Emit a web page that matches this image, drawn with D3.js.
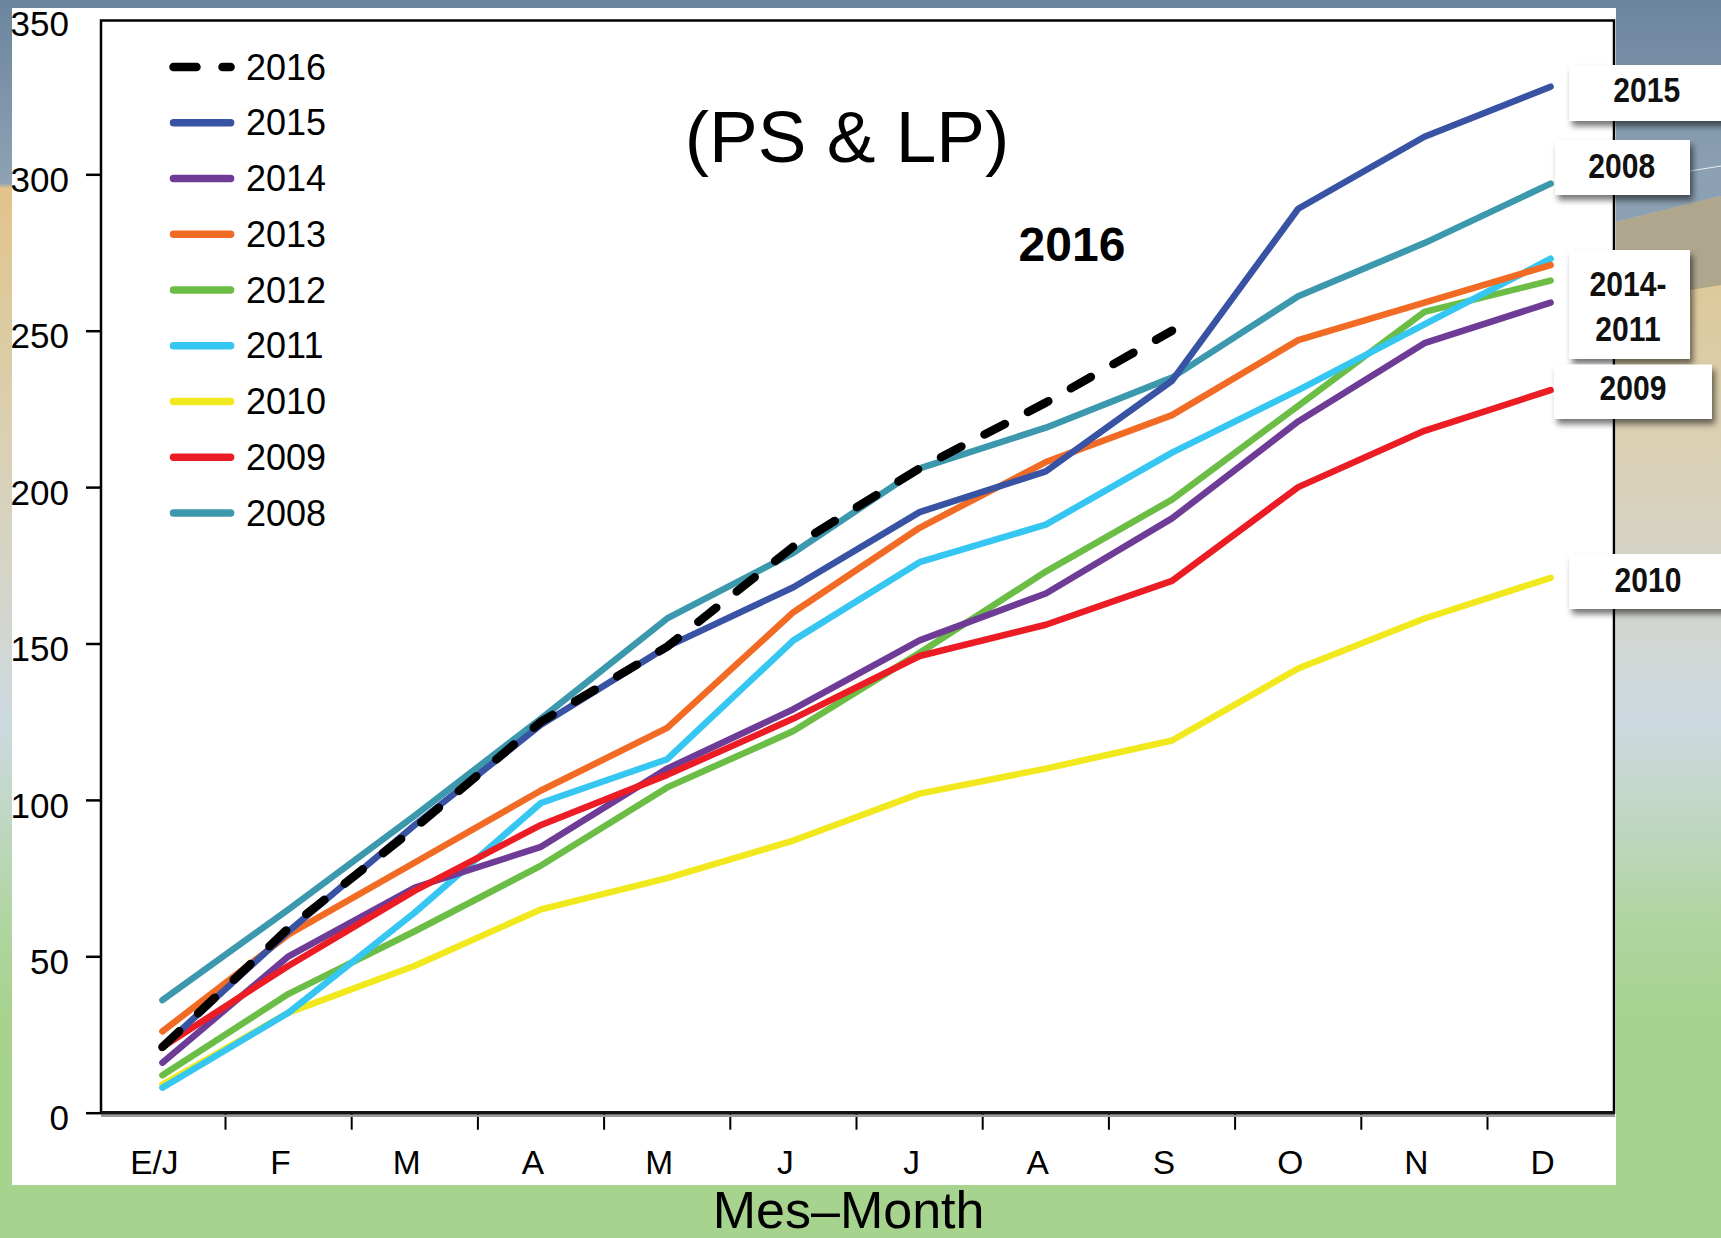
<!DOCTYPE html>
<html>
<head>
<meta charset="utf-8">
<script src="https://cdn.jsdelivr.net/npm/d3@7"></script>
<style>
  html, body { margin: 0; padding: 0; background: #a6d38e; }
  svg { display: block; }
  text { font-family: "Liberation Sans", Arial, Helvetica, sans-serif; }
</style>
</head>
<body>
<svg id="chart" width="1721" height="1238"></svg>
<script>
// ---------- DATA ----------
const months = ["E/J", "F", "M", "A", "M ", "J", "J ", "A ", "S", "O", "N", "D"];
const monthLabels = ["E/J", "F", "M", "A", "M", "J", "J", "A", "S", "O", "N", "D"];
const years = ["2016", "2015", "2014", "2013", "2012", "2011", "2010", "2009", "2008"];
const v2016 = [21, 59, 91, 125, 149, 181, 206, 227, 250];
const v2015 = [21, 58, 92, 124, 149, 168, 192, 205, 234, 289, 312, 328];
const v2014 = [16, 50, 72, 85, 110, 129, 151, 166, 190, 221, 246, 259];
const v2013 = [26, 57, 80, 103, 123, 160, 187, 208, 223, 247, 259, 271];
const v2012 = [12, 38, 58, 79, 104, 122, 147, 173, 196, 226, 256, 266];
const v2011 = [8, 32, 64, 99, 113, 151, 176, 188, 211, 231, 252, 273];
const v2010 = [9, 32, 47, 65, 75, 87, 102, 110, 119, 142, 158, 171];
const v2009 = [21, 47, 71, 92, 108, 126, 146, 156, 170, 200, 218, 231];
const v2008 = [36, 65, 95, 126, 158, 179, 206, 219, 235, 261, 278, 297];
const yTicks = [0, 50, 100, 150, 200, 250, 300, 350];
const titleText = "(PS & LP)";
const annotText = "2016";
const xTitle = "Mes\u2013Month";
const sideLabels = [["2015"], ["2008"], ["2014-", "2011"], ["2009"], ["2010"]];

// ---------- STYLE ----------
const seriesValues = {
  "2016": v2016, "2015": v2015, "2014": v2014, "2013": v2013, "2012": v2012,
  "2011": v2011, "2010": v2010, "2009": v2009, "2008": v2008
};
const colors = {
  "2016": "#000000", "2015": "#3953a4", "2014": "#6e3b97", "2013": "#f26b24",
  "2012": "#6bbd45", "2011": "#35c6f1", "2010": "#f1e91d", "2009": "#ec1c24",
  "2008": "#3c98ad"
};
const drawOrder = ["2012", "2010", "2011", "2014", "2013", "2009", "2008", "2015", "2016"];

const svg = d3.select("#chart");
const defs = svg.append("defs");

// background gradient
const bg = defs.append("linearGradient").attr("id", "bg")
  .attr("x1", 0).attr("y1", 0).attr("x2", 0).attr("y2", 1);
[[0, "#6b859e"], [0.148, "#8ea2b4"], [0.152, "#e3c28b"], [0.26, "#dccba0"],
 [0.38, "#d9d1b8"], [0.5, "#d3d6cf"], [0.58, "#cdd9e0"], [0.66, "#c0d7c4"],
 [0.74, "#b0d5a2"], [0.82, "#a7d38f"], [1, "#a6d38e"]].forEach(s =>
  bg.append("stop").attr("offset", s[0]).attr("stop-color", s[1]));

const shadow = defs.append("filter").attr("id", "shadow")
  .attr("x", "-20%").attr("y", "-30%").attr("width", "150%").attr("height", "180%");
shadow.append("feDropShadow").attr("dx", 3).attr("dy", 5).attr("stdDeviation", 3)
  .attr("flood-color", "#000").attr("flood-opacity", 0.55);

svg.append("rect").attr("width", 1721).attr("height", 1238).attr("fill", "url(#bg)");
// right-side landscape bands
svg.append("polygon").attr("points", "1616,180 1721,180 1721,196 1616,222").attr("fill", "#8ba0b3");
svg.append("polygon").attr("points", "1616,222 1721,196 1721,285 1616,302").attr("fill", "#aea78e");
svg.append("line").attr("x1", 1690).attr("y1", 171).attr("x2", 1721).attr("y2", 166)
  .attr("stroke", "#e8eef2").attr("stroke-width", 1.2);

// white panel
svg.append("rect").attr("x", 12).attr("y", 8).attr("width", 1604).attr("height", 1177).attr("fill", "#ffffff");

// ---------- SCALES ----------
const plotL = 101, plotR = 1614, plotT = 20.5, plotB = 1112.7;
const x = d3.scalePoint().domain(months).range([162.4, 1550.6]);
const y = d3.scaleLinear().domain([0, 350]).range([plotB, 17.9]);

// ---------- AXES ----------
const yAxis = d3.axisLeft(y).tickValues(yTicks).tickSize(15).tickPadding(17);
const yg = svg.append("g").attr("transform", `translate(${plotL},0)`).call(yAxis);
yg.select(".domain").remove();
yg.selectAll(".tick line").attr("stroke", "#000").attr("stroke-width", 2.5)
  .attr("display", d => d === 350 ? "none" : null);
yg.selectAll(".tick text").attr("font-size", 35).attr("fill", "#000")
  .attr("dy", "0.32em").attr("transform", "translate(0,6)")
  .attr("font-family", "'Liberation Sans', Arial, sans-serif");

// x ticks at midpoints between months
const mids = d3.pairs(months).map(p => (x(p[0]) + x(p[1])) / 2);
svg.append("g").selectAll("line").data(mids).join("line")
  .attr("x1", d => d).attr("x2", d => d).attr("y1", plotB).attr("y2", plotB + 17)
  .attr("stroke", "#000").attr("stroke-width", 2);
svg.append("g").selectAll("text").data(months).join("text")
  .attr("x", d => x(d) - 8).attr("y", 1174)
  .attr("text-anchor", "middle").attr("font-size", 33.5).attr("fill", "#000")
  .text((d, i) => monthLabels[i]);

// frame
svg.append("rect").attr("x", plotL).attr("y", plotT).attr("width", plotR - plotL).attr("height", plotB - plotT)
  .attr("fill", "none").attr("stroke", "#000").attr("stroke-width", 2.5);
svg.append("line").attr("x1", plotL).attr("x2", plotR + 1).attr("y1", plotB + 3).attr("y2", plotB + 3)
  .attr("stroke", "#9a9a9a").attr("stroke-width", 2.5);
svg.append("line").attr("x1", plotL).attr("x2", plotR + 1).attr("y1", plotB).attr("y2", plotB)
  .attr("stroke", "#111").attr("stroke-width", 3.5);

// ---------- LINES ----------
const line = d3.line().x((d, i) => x(months[i])).y(d => y(d));
const lg = svg.append("g");
drawOrder.forEach(yr => {
  const p = lg.append("path").datum(seriesValues[yr])
    .attr("d", line).attr("fill", "none")
    .attr("stroke", colors[yr])
    .attr("stroke-linecap", "round").attr("stroke-linejoin", "round");
  if (yr === "2016") {
    p.attr("stroke-width", 8.5).attr("stroke-dasharray", "23,26");
  } else {
    p.attr("stroke-width", 6.5);
  }
});

// ---------- LEGEND ----------
const legend = svg.append("g");
years.forEach((yr, i) => {
  const ly = 67 + i * 55.75;
  const l = legend.append("line").attr("x1", 173.5).attr("x2", 230.6).attr("y1", ly).attr("y2", ly)
    .attr("stroke", colors[yr]).attr("stroke-linecap", "round");
  if (yr === "2016") l.attr("stroke-width", 8.5).attr("stroke-dasharray", "23,26");
  else l.attr("stroke-width", 7.5);
  legend.append("text").attr("x", 246).attr("y", ly + 12.5).attr("font-size", 36)
    .attr("fill", "#000").text(yr);
});

// ---------- TITLES ----------
svg.append("text").attr("x", 847).attr("y", 161.7).attr("text-anchor", "middle")
  .attr("font-size", 73).attr("fill", "#000").text(titleText);
svg.append("text").attr("x", 1018.6).attr("y", 261).attr("font-size", 48)
  .attr("font-weight", "bold").attr("fill", "#000").text(annotText);
svg.append("text").attr("x", 848.6).attr("y", 1228).attr("text-anchor", "middle")
  .attr("font-size", 52).attr("fill", "#000").text(xTitle);

// ---------- SIDE LABEL BOXES ----------
const boxLayout = [
  { x0: 1569, x1: 1740, y0: 65, y1: 121, cx: 1646.7, base: [102] },
  { x0: 1555, x1: 1690, y0: 140, y1: 195, cx: 1621.7, base: [177.6] },
  { x0: 1569, x1: 1690, y0: 250, y1: 359, cx: 1628, base: [296, 341] },
  { x0: 1554, x1: 1712, y0: 364.5, y1: 419, cx: 1633, base: [400] },
  { x0: 1569, x1: 1740, y0: 554, y1: 609, cx: 1648, base: [592] }
];
const sg = svg.append("g");
sideLabels.forEach((lines, i) => {
  const b = boxLayout[i];
  sg.append("rect").attr("x", b.x0).attr("y", b.y0).attr("width", b.x1 - b.x0).attr("height", b.y1 - b.y0)
    .attr("fill", "#fff").attr("filter", "url(#shadow)");
});
sideLabels.forEach((lines, i) => {
  const b = boxLayout[i];
  lines.forEach((t, j) => {
    sg.append("text").attr("transform", `translate(${b.cx},${b.base[j]}) scale(0.86,1)`)
      .attr("text-anchor", "middle").attr("font-size", 35).attr("font-weight", "bold")
      .attr("fill", "#111").text(t);
  });
});
</script>
</body>
</html>
